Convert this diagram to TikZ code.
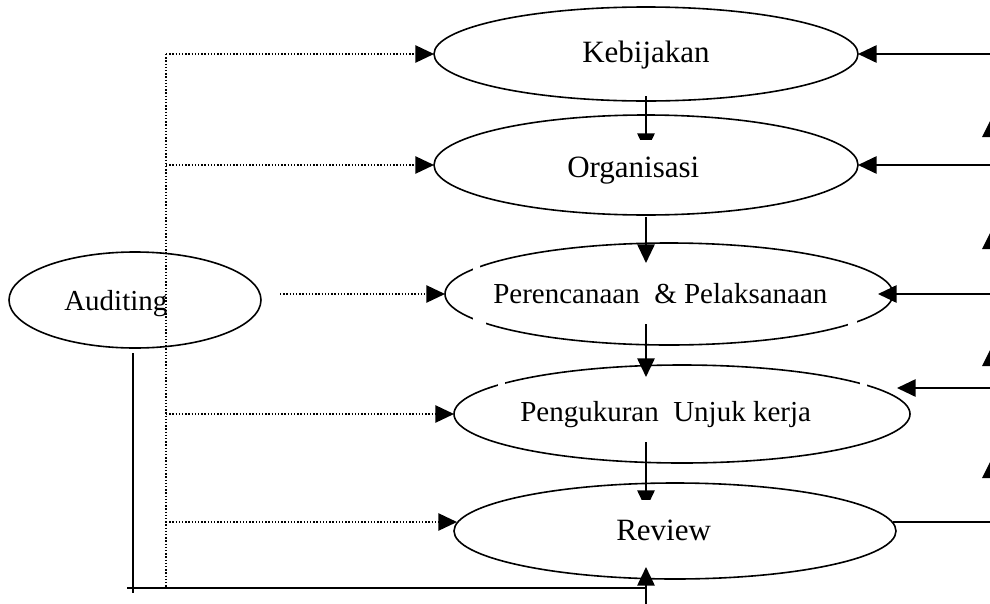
\documentclass[tikz,border=0pt]{standalone}
\usepackage{fontspec}
\setmainfont{Liberation Serif}
\usetikzlibrary{arrows.meta,shapes.geometric}
\begin{document}
\begin{tikzpicture}[x=0.75pt,y=-0.75pt,
  ell/.style={draw,ellipse,line width=1.2pt,inner sep=0pt,outer sep=0pt},
  lbl/.style={inner sep=0pt,anchor=base west,font=\fontsize{23.25}{26}\selectfont},
  lbls/.style={inner sep=0pt,anchor=base west,font=\fontsize{21.75}{24}\selectfont},
  sol/.style={line width=1.4pt},
  dots/.style={line width=1.1pt,dash pattern=on 1.1pt off 1.3pt},
  tip/.style={-{Triangle[length=14pt,width=13pt]}},
]
\useasboundingbox (0,0) rectangle (990,604);
\fill[white] (0,0) rectangle (990,604);
\clip (0,0) rectangle (990,604);

% ellipses
\node[ell,minimum width=318pt,minimum height=70.5pt] (K) at (646,54) {};
\node[ell,minimum width=318pt,minimum height=75pt] (O) at (646,165) {};
\node[ell,minimum width=336pt,minimum height=76.5pt] (P) at (669,294) {};
\node[ell,minimum width=342pt,minimum height=73.5pt] (U) at (682,414) {};
\node[ell,minimum width=331.5pt,minimum height=72pt] (R) at (675,531) {};
\node[ell,minimum width=189pt,minimum height=72pt] (A) at (135,300) {};

% small breaks in outlines
\fill[white] (473,263) rectangle (480,272);
\fill[white] (473,316) rectangle (486,327);
\fill[white] (848,318) rectangle (857,329);
\fill[white] (498,378) rectangle (505,389);
\fill[white] (860,378) rectangle (867,389);

% named end points
\coordinate (dTop) at (166,54);
\coordinate (dO) at (166,165);
\coordinate (dU) at (166,414);
\coordinate (dR) at (166,522);
\coordinate (dBot) at (166,588);
\coordinate (aP) at (280,294);
\coordinate (rIn) at (457,522);
\coordinate (eK) at (990,54);
\coordinate (eO) at (990,165);
\coordinate (eP) at (990,294);
\coordinate (pIn) at (878,294);
\coordinate (eU) at (990,388);
\coordinate (uIn) at (897,388);
\coordinate (eR) at (990,522);
\coordinate (rOut) at (893,522);
\coordinate (kS) at (646,96);
\coordinate (oN) at (646,152);
\coordinate (oS) at (646,217);
\coordinate (pN) at (646,263);
\coordinate (pS) at (646,324);
\coordinate (uN) at (646,377);
\coordinate (uS) at (646,442);
\coordinate (rN) at (646,509);
\coordinate (bot) at (646,604);
\coordinate (rS) at (646,567);
\coordinate (aS) at (133,353);
\coordinate (aB) at (133,593);
\coordinate (hL) at (127,588);
\coordinate (hR) at (646,588);

% dotted auditing lines
\draw[dots] (dTop) -- (dBot);
\draw[dots,tip] (dTop) -- (K.west);
\draw[dots,tip] (dO) -- (O.west);
\draw[dots,tip] (aP) -- (P.west);
\draw[dots,tip] (dU) -- (U.west);
\draw[dots,tip] (dR) -- (rIn);

% right feedback lines
\draw[sol,tip] (eK) -- (K.east);
\draw[sol,tip] (eO) -- (O.east);
\draw[sol,tip] (eP) -- (pIn);
\draw[sol,tip] (eU) -- (uIn);
\draw[sol] (eR) -- (rOut);
\foreach \t in {119,231,348,460}
  \fill (982,\t+18) -- (991,\t) -- (1000,\t+18) -- cycle;

% vertical flow
\draw[sol,tip] (kS) -- (oN);
\draw[sol,tip] (oS) -- (pN);
\draw[sol,tip] (pS) -- (uN);
\draw[sol,tip] (uS) -- (rN);
\draw[sol,tip] (bot) -- (rS);
\fill[white] (634,139.5) rectangle (658,158);
\fill[white] (634,500) rectangle (658,514);

% auditing solid return
\draw[sol] (aS) -- (aB);
\draw[sol] (hL) -- (hR);

% labels
\node[lbl] (tK) at (582,62) {Kebijakan};
\node[lbl] (tO) at (567,177) {Organisasi};
\node[lbls] (tP) at (493,303) {Perencanaan~ \& Pelaksanaan};
\node[lbls] (tU) at (520,421) {Pengukuran~ Unjuk kerja};
\node[lbl] (tR) at (616,540) {Review};
\node[lbls] (tA) at (64,310) {Auditing};
\end{tikzpicture}
\end{document}
